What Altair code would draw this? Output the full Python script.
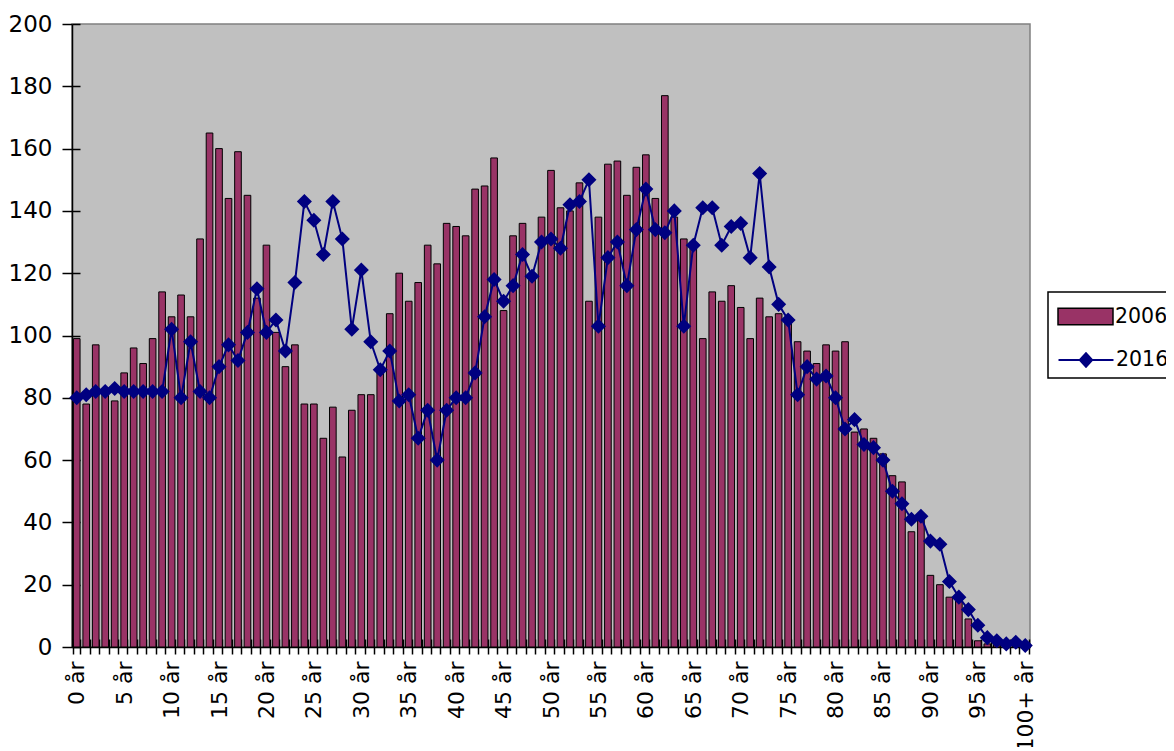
import json
import altair as alt
import pandas as pd

# ---- data -------------------------------------------------------------
categories = [f"{i} år" for i in range(100)] + ["100+ år"]

values_2006 = [
    99, 78, 97, 82, 79, 88, 96, 91, 99, 114,
    106, 113, 106, 131, 165, 160, 144, 159, 145, 112,
    129, 101, 90, 97, 78, 78, 67, 77, 61, 76,
    81, 81, 89, 107, 120, 111, 117, 129, 123, 136,
    135, 132, 147, 148, 157, 108, 132, 136, 118, 138,
    153, 141, 140, 149, 111, 138, 155, 156, 145, 154,
    158, 144, 177, 138, 131, 128, 99, 114, 111, 116,
    109, 99, 112, 106, 107, 104, 98, 95, 91, 97,
    95, 98, 69, 70, 67, 62, 55, 53, 37, 41,
    23, 20, 16, 15, 9, 2, 1, 1, 0.5, 0.5,
    0.3,
]

values_2016 = [
    80, 81, 82, 82, 83, 82, 82, 82, 82, 82,
    102, 80, 98, 82, 80, 90, 97, 92, 101, 115,
    101, 105, 95, 117, 143, 137, 126, 143, 131, 102,
    121, 98, 89, 95, 79, 81, 67, 76, 60, 76,
    80, 80, 88, 106, 118, 111, 116, 126, 119, 130,
    131, 128, 142, 143, 150, 103, 125, 130, 116, 134,
    147, 134, 133, 140, 103, 129, 141, 141, 129, 135,
    136, 125, 152, 122, 110, 105, 81, 90, 86, 87,
    80, 70, 73, 65, 64, 60, 50, 46, 41, 42,
    34, 33, 21, 16, 12, 7, 3, 2, 1, 1.5,
    0.5,
]

y_ticks = [0, 20, 40, 60, 80, 100, 120, 140, 160, 180, 200]
shown_labels = categories[::5]

df06 = pd.DataFrame({"age": categories, "value": values_2006, "series": "2006"})
df16 = pd.DataFrame({"age": categories, "value": values_2016, "series": "2016"})

FONT = "DejaVu Sans"
FSIZE = 23
XSIZE = 22
BAR_COLOR = "#993366"
LINE_COLOR = "#000080"

label_expr = (
    f"indexof({json.dumps(shown_labels, ensure_ascii=False)}, datum.value) >= 0"
    " ? datum.value : ''"
)

x_scale = alt.Scale(paddingInner=0.3, paddingOuter=0.15)
y_scale = alt.Scale(domain=[0, 200], nice=False, zero=True)

# main (outer) axes
x_main = alt.X(
    "age:N",
    sort=categories,
    scale=x_scale,
    axis=alt.Axis(
        title=None,
        orient="bottom",
        labelExpr=label_expr,
        labelAngle=270,
        labelOverlap=False,
        labelFont=FONT,
        labelFontSize=XSIZE,
        labelColor="black",
        labelPadding=7,
        tickBand="extent",
        tickSize=7,
        tickColor="black",
        tickWidth=1.5,
        domainColor="black",
        domainWidth=1.5,
        grid=False,
    ),
)

y_main = alt.Y(
    "value:Q",
    scale=y_scale,
    axis=alt.Axis(
        title=None,
        orient="left",
        values=y_ticks,
        labelFont=FONT,
        labelFontSize=FSIZE,
        labelColor="black",
        labelPadding=10,
        tickSize=10,
        tickColor="black",
        tickWidth=1.5,
        domainColor="black",
        domainWidth=1.5,
        grid=False,
    ),
)

# inner halves of the crossing tick marks
x_inner = alt.X(
    "age:N",
    sort=categories,
    scale=x_scale,
    axis=alt.Axis(
        title=None,
        orient="bottom",
        offset=-8,
        labels=False,
        domain=False,
        tickBand="extent",
        tickSize=8,
        tickColor="black",
        tickWidth=1.5,
        grid=False,
    ),
)

y_inner = alt.Y(
    "value:Q",
    scale=y_scale,
    axis=alt.Axis(
        title=None,
        orient="left",
        offset=-8,
        values=y_ticks,
        labels=False,
        domain=False,
        tickSize=8,
        tickColor="black",
        tickWidth=1.5,
        grid=False,
    ),
)

RECT_PATH = "M-2,-0.6H2V0.6H-2Z"
LINE_PATH = "M-2,0H2M-0.45,0L0,-0.5L0.45,0L0,0.5Z"

common_legend = dict(
    title=None,
    orient="none",
    labelFont=FONT,
    labelFontSize=20.5,
    labelColor="black",
    symbolSize=756,
    symbolOffset=14,
    labelOffset=15,
    padding=0,
)

legend_bar = alt.Legend(
    legendX=985,
    legendY=278,
    symbolType=RECT_PATH,
    symbolStrokeColor="black",
    symbolStrokeWidth=1.5,
    symbolOpacity=1,
    **common_legend,
)

legend_line = alt.Legend(
    legendX=985,
    legendY=321,
    symbolType=LINE_PATH,
    symbolFillColor=LINE_COLOR,
    symbolStrokeWidth=2,
    symbolOpacity=1,
    **common_legend,
)

bars = alt.Chart(df06).mark_bar(stroke="black", strokeWidth=1).encode(
    x=x_main,
    y=y_main,
    fill=alt.Fill(
        "series:N",
        scale=alt.Scale(domain=["2006"], range=[BAR_COLOR]),
        legend=legend_bar,
    ),
)

line = alt.Chart(df16).mark_line(
    strokeWidth=2,
    point=alt.OverlayMarkDef(shape="diamond", filled=True, size=150, fill=LINE_COLOR, stroke=LINE_COLOR),
).encode(
    x=x_inner,
    y=y_inner,
    stroke=alt.Stroke(
        "series:N",
        scale=alt.Scale(domain=["2016"], range=[LINE_COLOR]),
        legend=legend_line,
    ),
)

# legend frame (decoration)
frame = alt.Chart(pd.DataFrame({"k": [0]})).mark_rect(
    fill="white", stroke="black", strokeWidth=1.5
).encode(
    x=alt.value(976), x2=alt.value(1120), y=alt.value(268), y2=alt.value(354)
)

chart = (
    alt.layer(frame, bars, line)
    .resolve_scale(fill="independent", stroke="independent")
    .resolve_axis(x="independent", y="independent")
    .properties(
        width=958,
        height=623,
        autosize=alt.AutoSizeParams(type="none"),
        padding={"left": 64, "top": 16, "right": 136, "bottom": 100},
        background="white",
    )
    .configure_view(fill="#C0C0C0", stroke="#808080", strokeWidth=1.5)
)

chart.save("out.html", embed_options={"renderer": "svg", "actions": False})
